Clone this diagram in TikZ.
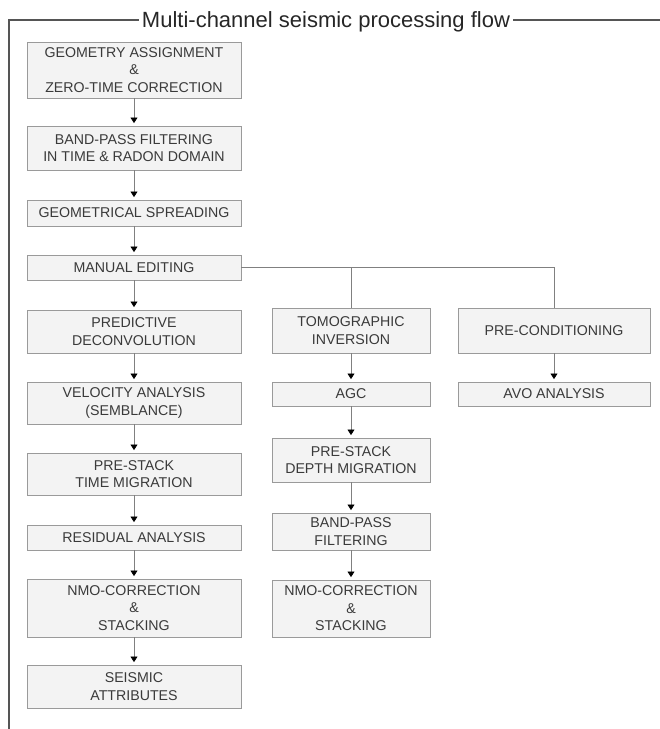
\documentclass[tikz,border=0pt]{standalone}
\usepackage{fontspec}
\setmainfont{Liberation Sans}
\usetikzlibrary{arrows.meta}
\definecolor{txt}{HTML}{3A3A3A}
\definecolor{frameline}{HTML}{555555}
\definecolor{boxline}{HTML}{9A9A9A}
\definecolor{boxfill}{HTML}{F3F3F3}
\definecolor{conn}{HTML}{808080}
\begin{document}
\begin{tikzpicture}[x=1pt,y=-1pt,
  box/.style={draw=boxline, fill=boxfill, line width=0.9pt, inner sep=0pt, align=center,
    text=txt, font=\fontsize{14.2}{17.5}\selectfont},
  lbox/.style={box, minimum width=214pt},
  mbox/.style={box, minimum width=158pt},
  rbox/.style={box, minimum width=192pt},
  flow/.style={draw=conn, line width=0.7pt, -{Triangle[width=7pt,length=5.5pt,color=black]}, shorten >=2.5pt},
  link/.style={draw=conn, line width=0.8pt}]
\useasboundingbox (0,0) rectangle (660,729);
% frame
\node[anchor=base, text=black!85, font=\fontsize{22}{26}\selectfont, inner sep=0pt] (title) at (326,27) {Multi-channel seismic processing flow};
\coordinate (tl) at (9,20);
\coordinate (tr) at (660,20);
\coordinate (bl) at (9,729);
\draw[frameline, line width=1.2pt] (title.west|-tl) ++(-3,0) -- (tl) -- (bl);
\draw[frameline, line width=1.2pt] (title.east|-tr) ++(3,0) -- (tr);
% left column
\node[lbox, minimum height=56pt] (a1) at (134,70) {GEOMETRY ASSIGNMENT\\\&\\ZERO-TIME CORRECTION};
\node[lbox, minimum height=44pt] (a2) at (134,148) {BAND-PASS FILTERING\\IN TIME \& RADON DOMAIN};
\node[lbox, minimum height=26pt] (a3) at (134,213) {GEOMETRICAL SPREADING};
\node[lbox, minimum height=25pt] (a4) at (134,267.5) {MANUAL EDITING};
\node[lbox, minimum height=43pt] (a5) at (134,331.5) {PREDICTIVE\\DECONVOLUTION};
\node[lbox, minimum height=42pt] (a6) at (134,403) {VELOCITY ANALYSIS\\(SEMBLANCE)};
\node[lbox, minimum height=42pt] (a7) at (134,474) {PRE-STACK\\TIME MIGRATION};
\node[lbox, minimum height=25pt] (a8) at (134,537.5) {RESIDUAL ANALYSIS};
\node[lbox, minimum height=58pt] (a9) at (134,608) {NMO-CORRECTION\\\&\\STACKING};
\node[lbox, minimum height=43pt] (a10) at (134,686.5) {SEISMIC\\ATTRIBUTES};
% middle column
\node[mbox, minimum height=45pt] (m1) at (351,330.5) {TOMOGRAPHIC\\INVERSION};
\node[mbox, minimum height=24pt] (m2) at (351,394) {AGC};
\node[mbox, minimum height=44pt] (m3) at (351,460) {PRE-STACK\\DEPTH MIGRATION};
\node[mbox, minimum height=37pt] (m4) at (351,531.5) {BAND-PASS\\FILTERING};
\node[mbox, minimum height=57pt] (m5) at (351,608.5) {NMO-CORRECTION\\\&\\STACKING};
% right column
\node[rbox, minimum height=45pt] (r1) at (554,330.5) {PRE-CONDITIONING};
\node[rbox, minimum height=24pt] (r2) at (554,394) {AVO ANALYSIS};
% connectors
\foreach \u/\v in {a1/a2,a2/a3,a3/a4,a4/a5,a5/a6,a6/a7,a7/a8,a8/a9,a9/a10,m1/m2,m2/m3,m3/m4,m4/m5,r1/r2}
  \draw[flow] (\u.south) -- (\v.north);
\coordinate (jm) at (351,267.5);
\coordinate (jr) at (554,267.5);
\draw[link] (a4.east) -- (jm) -- (jr) -- (r1.north);
\draw[link] (jm) -- (m1.north);
\end{tikzpicture}
\end{document}
